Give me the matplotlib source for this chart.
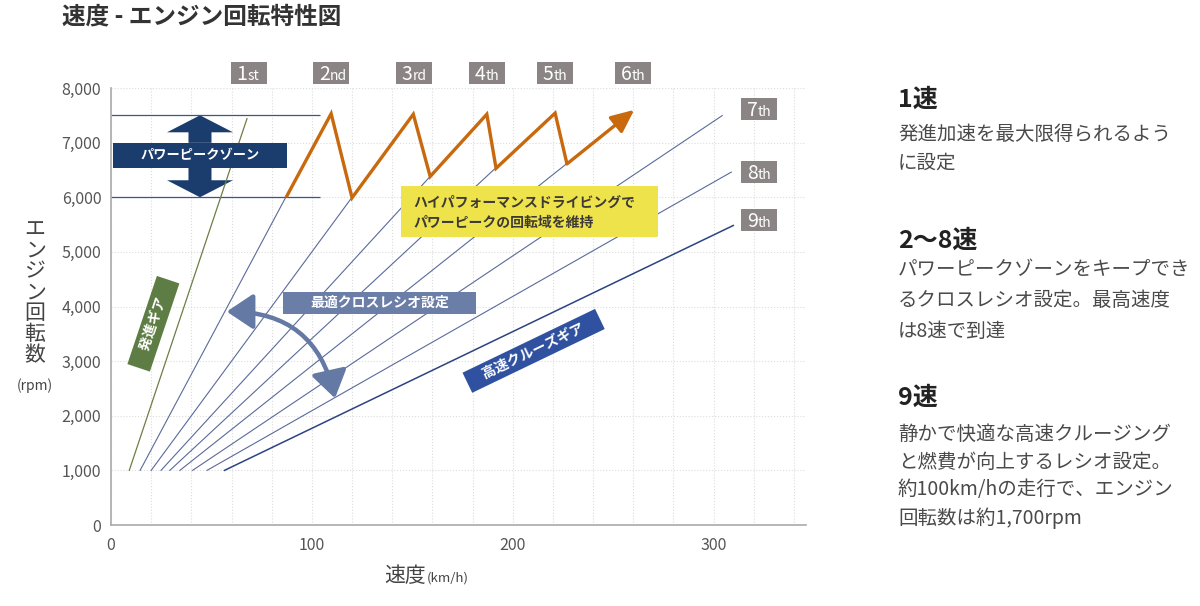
import matplotlib
matplotlib.use('Agg')
import numpy as np
import matplotlib.pyplot as plt
from matplotlib.patches import Rectangle, FancyArrowPatch, Polygon

plt.rcParams['font.family'] = ['Noto Sans CJK JP', 'DejaVu Sans']

# gear lines: speed (km/h) at 1000 rpm, and speed where the line stops
gear_names = ['1st', '2nd', '3rd', '4th', '5th', '6th', '7th', '8th', '9th']
gear_v_start = [9.1, 14.5, 20.0, 24.9, 29.3, 34.3, 40.6, 47.8, 56.5]
gear_v_end = [67.7, 87.2, 120.0, 158.9, 191.7, 227.0, 304.3, 308.8, 309.8]
rpm_start = 1000

# shift pattern (orange zigzag)
shift_v = [87.2, 109.6, 120.0, 150.5, 158.9, 187.1, 191.7, 221.1, 227.0, 260.5]
shift_rpm = [6000, 7530, 5990, 7520, 6380, 7520, 6530, 7540, 6610, 7600]

# power peak zone
peak_lo, peak_hi = 6000, 7500
peak_v_end = 104

# where the gear tags sit
tag_v = [68.7, 109.6, 150.9, 187.3, 221.0, 260.0, 322.7, 322.7, 322.7]
tag_rpm = [8280, 8280, 8280, 8280, 8280, 8280, 7620, 6465, 5586]

x_ticks = [0, 100, 200, 300]
y_ticks = [0, 1000, 2000, 3000, 4000, 5000, 6000, 7000, 8000]
y_tick_labels = ['0', '1,000', '2,000', '3,000', '4,000', '5,000', '6,000', '7,000', '8,000']

orange = '#c8690e'
navy = '#1b3d6e'
line_blue = '#5a6a9a'
tick_gray = '#555555'

W, H = 1200, 606
fig = plt.figure(figsize=(12, 6.06), dpi=100)
ax = fig.add_axes([111 / W, 1 - 525 / H, 695 / W, 437 / H])
ax.set_xlim(0, 346)
ax.set_ylim(0, 8000)

# grid & axes
ax.set_xticks(x_ticks)
ax.set_xticks(np.arange(0, 341, 20), minor=True)
ax.set_yticks(y_ticks)
ax.set_yticklabels(y_tick_labels)
ax.grid(which='both', axis='x', color='#dcdcdc', lw=0.8, ls=':')
ax.grid(which='major', axis='y', color='#dcdcdc', lw=0.8, ls=':')
ax.tick_params(which='both', length=0, labelsize=11.5, labelcolor=tick_gray)
ax.tick_params(axis='y', pad=7)
ax.tick_params(axis='x', pad=9)
for s in ['top', 'right']:
    ax.spines[s].set_visible(False)
for s in ['left', 'bottom']:
    ax.spines[s].set_color('#aaaaaa')
    ax.spines[s].set_linewidth(1.2)
ax.set_axisbelow(True)

# pixels per data unit
px_x = 695 / 346
px_y = 437 / 8000

# power peak zone lines
ax.hlines([peak_lo, peak_hi], 0, peak_v_end, color='#3e5489', lw=0.9, zorder=2)

# zone double arrow
cv = 44.3
hw = 66 / px_x
sw = 23 / px_x
box_lo, box_hi = 6538, 6996
head_h = 17 / px_y
up = [(cv, peak_hi), (cv + hw / 2, peak_hi - head_h), (cv + sw / 2, peak_hi - head_h),
      (cv + sw / 2, box_hi), (cv - sw / 2, box_hi), (cv - sw / 2, peak_hi - head_h),
      (cv - hw / 2, peak_hi - head_h)]
dn = [(cv, peak_lo), (cv + hw / 2, peak_lo + head_h), (cv + sw / 2, peak_lo + head_h),
      (cv + sw / 2, box_lo), (cv - sw / 2, box_lo), (cv - sw / 2, peak_lo + head_h),
      (cv - hw / 2, peak_lo + head_h)]
ax.add_patch(Polygon(up, closed=True, fc=navy, ec='none', zorder=1.5))
ax.add_patch(Polygon(dn, closed=True, fc=navy, ec='none', zorder=1.5))

# gear lines
for i, name in enumerate(gear_names):
    ratio = rpm_start / gear_v_start[i]
    vs = [gear_v_start[i], gear_v_end[i]]
    rs = [rpm_start, gear_v_end[i] * ratio]
    if i == 0:
        c, lw = '#6d7d45', 0.9
    elif i == 8:
        c, lw = '#2c4382', 1.1
    else:
        c, lw = line_blue, 0.8
    ax.plot(vs, rs, color=c, lw=lw, zorder=2)

# zone box
ax.add_patch(Rectangle((0.8, box_lo), 86.7, box_hi - box_lo, fc=navy, ec='none', zorder=3))
ax.text(cv, (box_lo + box_hi) / 2, 'パワーピークゾーン', color='white', fontsize=9.5,
        fontweight='bold', ha='center', va='center', zorder=4)

# orange shift line
ax.plot(shift_v[:-1], shift_rpm[:-1], color=orange, lw=2.4, zorder=5,
        solid_joinstyle='miter', solid_capstyle='butt')
ax.annotate('', xy=(shift_v[-1], shift_rpm[-1]), xytext=(shift_v[-2], shift_rpm[-2]),
            arrowprops=dict(arrowstyle='-|>,head_length=1.0,head_width=0.45', color=orange,
                            lw=2.4, mutation_scale=14, shrinkA=0, shrinkB=0), zorder=5)

# gear tags
tw, th = 36 / px_x, 22 / px_y
for name, v, r in zip(gear_names, tag_v, tag_rpm):
    ax.add_patch(Rectangle((v - tw / 2, r - th / 2), tw, th, fc='#8b8484', ec='none',
                           clip_on=False, zorder=6))
    base = r - 7 / px_y
    ax.text(v - 1.5 / px_x, base, name[0], color='white', fontsize=14, ha='right',
            va='baseline', zorder=7, clip_on=False)
    ax.text(v - 1.5 / px_x, base, name[1:], color='white', fontsize=10, ha='left',
            va='baseline', zorder=7, clip_on=False)

# yellow note
ax.add_patch(Rectangle((144.5, 5281), 127.8, 916, fc='#efe34b', ec='none', zorder=6))
ax.text(150.6, 5717, 'ハイパフォーマンスドライビングで\nパワーピークの回転域を維持',
        color='#3d3a35', fontsize=10, fontweight='bold', ha='left', va='center',
        linespacing=1.55, zorder=7)

# cross ratio note
ax.add_patch(Rectangle((85.7, 3858), 96.1, 415, fc='#6b7ea8', ec='none', zorder=6))
ax.text(133.7, 4065, '最適クロスレシオ設定', color='white', fontsize=10, fontweight='bold',
        ha='center', va='center', zorder=7)

# curved double arrow
ax.add_patch(FancyArrowPatch((57.6, 3907), (111.5, 2320), connectionstyle='arc3,rad=-0.4',
                             arrowstyle='<|-|>,head_length=0.9,head_width=0.6',
                             mutation_scale=18, lw=3.2, color='#6479a3',
                             shrinkA=0, shrinkB=0, zorder=6))


def line_angle(i):
    ratio = rpm_start / gear_v_start[i]
    p0 = ax.transData.transform((gear_v_start[i], rpm_start))
    p1 = ax.transData.transform((gear_v_end[i], gear_v_end[i] * ratio))
    return np.degrees(np.arctan2(p1[1] - p0[1], p1[0] - p0[0]))


ax.text(21.1, 3684, '　発進ギア　', rotation=line_angle(0), rotation_mode='anchor',
        color='white', fontsize=10, fontweight='bold', ha='center', va='center', zorder=7,
        bbox=dict(boxstyle='square,pad=0.35', fc='#5e7d45', ec='none'))
ax.text(210.4, 3188, '　高速クルーズギア　', rotation=line_angle(8), rotation_mode='anchor',
        color='white', fontsize=10, fontweight='bold', ha='center', va='center', zorder=7,
        bbox=dict(boxstyle='square,pad=0.3', fc='#2f51a0', ec='none'))

# title and axis labels
fig.text(62 / W, 1 - 16 / H, '速度 - エンジン回転特性図', fontsize=17, fontweight='bold',
         color='#333333', va='center', ha='left')
for k, ch in enumerate('エンジン回転数'):
    fig.text(35 / W, 1 - (230 + k * 20.8) / H, ch, fontsize=15, color='#444444',
             ha='center', va='center')
fig.text(35 / W, 1 - 386 / H, '(rpm)', fontsize=10, color='#444444', ha='center', va='center')
fig.text(426 / W, 1 - 576 / H, '速度', fontsize=15, color='#444444', ha='right', va='center')
fig.text(427 / W, 1 - 578 / H, '(km/h)', fontsize=9.5, color='#444444', ha='left', va='center')

# right column
heads = [('1速', 100), ('2〜8速', 241), ('9速', 398)]
bodies = [
    ('発進加速を最大限得られるよう', 134), ('に設定', 163),
    ('パワーピークゾーンをキープでき', 270), ('るクロスレシオ設定。最高速度', 300),
    ('は8速で到達', 331),
    ('静かで快適な高速クルージング', 434), ('と燃費が向上するレシオ設定。', 462),
    ('約100km/hの走行で、エンジン', 490), ('回転数は約1,700rpm', 518),
]
for t, y in heads:
    fig.text(898 / W, 1 - y / H, t, fontsize=18, fontweight='bold', color='#222222',
             ha='left', va='center')
for t, y in bodies:
    fig.text(898 / W, 1 - y / H, t, fontsize=14, color='#4a4a4a', ha='left', va='center')

fig.savefig('out.png', dpi=100)
